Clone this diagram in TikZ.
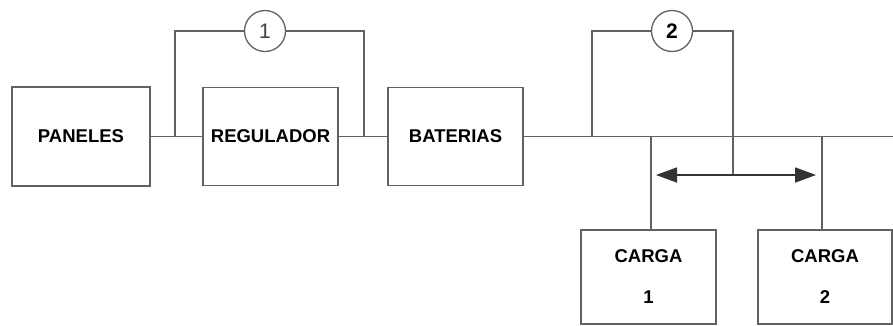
\documentclass[tikz,border=0pt]{standalone}
\usepackage{fontspec}
\setmainfont{Liberation Sans}
\usetikzlibrary{arrows.meta}
\definecolor{linegray}{gray}{0.38}
\begin{document}
\begin{tikzpicture}[x=1pt,y=-1pt,
  wire/.style={draw=linegray,line width=1.4pt},
  box/.style={draw=linegray,line width=1.5pt,inner sep=0pt,align=center,
    font=\bfseries\fontsize{18.5}{41}\selectfont},
  numcirc/.style={draw=linegray,line width=1.3pt,circle,minimum size=41pt,inner sep=0pt,
    font=\fontsize{21}{21}\selectfont},
  dblarrow/.style={draw=black!80,line width=1.6pt,
    {Triangle[length=21pt,width=15pt]}-{Triangle[length=21pt,width=15pt]}}]
\useasboundingbox[fill=white] (0,0) rectangle (893,325);
% boxes
\node[box,minimum width=138pt,minimum height=99pt] (pan) at (81,136.5) {PANELES};
\node[box,minimum width=135pt,minimum height=98pt] (reg) at (270.5,136.5) {REGULADOR};
\node[box,minimum width=135pt,minimum height=98pt] (bat) at (455.5,136.5) {BATERIAS};
\node[box,minimum width=135pt,minimum height=94pt] (cg1) at (648.5,277) {CARGA\\1};
\node[box,minimum width=134pt,minimum height=94pt] (cg2) at (825,277) {CARGA\\2};
% circles
\node[numcirc,text=black!75] (c1) at (265,31) {1};
\node[numcirc,font=\bfseries\fontsize{21}{21}\selectfont] (c2) at (672,31) {2};
% junctions
\coordinate (j1) at (175,136.5);
\coordinate (j2) at (364,136.5);
\coordinate (j3) at (592,136.5);
\coordinate (j4) at (651,136.5);
\coordinate (j5) at (822,136.5);
\coordinate (rend) at (893,136.5);
\coordinate (amid) at (733,175);
\coordinate (aL) at (656,175);
\coordinate (aR) at (816,175);
% wires
\draw[wire] (pan.east) -- (reg.west);
\draw[wire] (reg.east) -- (bat.west);
\draw[wire] (bat.east) -- (rend);
\draw[wire] (j1) |- (c1.west);
\draw[wire] (c1.east) -| (j2);
\draw[wire] (j3) |- (c2.west);
\draw[wire] (c2.east) -| (amid);
\draw[wire] (j4) -- (j4 |- cg1.north);
\draw[wire] (j5) -- (j5 |- cg2.north);
\draw[dblarrow] (aL) -- (aR);
\end{tikzpicture}
\end{document}
